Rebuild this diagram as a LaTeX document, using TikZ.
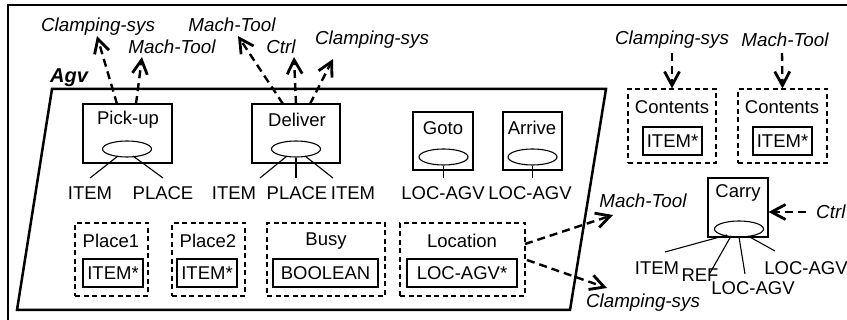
\documentclass[tikz,border=0pt]{standalone}
\usepackage{fontspec}
\setmainfont{Liberation Sans}
\usetikzlibrary{arrows.meta,shapes.geometric}
\begin{document}
\begin{tikzpicture}[x=1pt,y=-1pt,
  every node/.style={font=\fontsize{18.5}{22}\selectfont,inner sep=0pt},
  lbl/.style={font=\fontsize{18.8}{22}\selectfont\itshape},
  fbox/.style={draw,line width=1.1pt,rectangle},
  dbox/.style={draw,line width=1.1pt,dash pattern=on 5pt off 3.5pt,rectangle},
  ell/.style={draw,line width=1.1pt,ellipse,minimum width=49pt,minimum height=16pt},
  thin/.style={line width=1.1pt},
  flow/.style={line width=2.4pt,dash pattern=on 8pt off 5pt,-{Straight Barb[length=14pt,width=15pt,line width=2.8pt]}}
]
\useasboundingbox (0,0) rectangle (847,320);
\clip (0,0) rectangle (847,320);
\draw[line width=2pt] (8,5) rectangle (900,400);

% Agv trapezoid
\draw[line width=2.5pt,line join=miter] (52,89) -- (606,89) -- (570,310) -- (17,310) -- cycle;
\node[font=\fontsize{20}{22}\selectfont\bfseries\itshape] (agv) at (69,78) {Agv};

% functions
\node[fbox,minimum width=89pt,minimum height=59pt] (pick) at (127.5,133.5) {};
\node (pickt) at (128,120) {Pick-up};
\node[ell] (pickE) at (127,149) {};
\node (pickI) at (90,193) {ITEM};
\node (pickP) at (163,193) {PLACE};
\draw[thin] (118,156) -- (90,178);
\draw[thin] (133,156) -- (163,178);

\node[fbox,minimum width=88pt,minimum height=59pt] (del) at (296,133.5) {};
\node (delt) at (297,120) {Deliver};
\node[ell] (delE) at (296,149) {};
\node (delI) at (234,193) {ITEM};
\node (delP) at (297,193) {PLACE};
\node (delI2) at (353,193) {ITEM};
\draw[thin] (287,156) -- (260,178);
\draw[thin] (delE.south) -- (296,178);
\draw[thin] (305,156) -- (333,178);

\node[fbox,minimum width=60pt,minimum height=58pt] (goto) at (443,141) {};
\node (gotot) at (443,128) {Goto};
\node[ell] (gotoE) at (443.5,157) {};
\node (gotoL) at (443,193) {LOC-AGV};
\draw[thin] (gotoE.south) -- (443.5,178);

\node[fbox,minimum width=59pt,minimum height=58pt] (arr) at (532.5,141) {};
\node (arrt) at (532,128) {Arrive};
\node[ell] (arrE) at (532.5,157) {};
\node (arrL) at (530,193) {LOC-AGV};
\draw[thin] (arrE.south) -- (532.5,178);

% state boxes
\node[dbox,minimum width=73pt,minimum height=73pt] (p1) at (111.5,259.5) {};
\node (p1t) at (111,241) {Place1};
\node[fbox,minimum width=60pt,minimum height=28pt] (p1i) at (113,273) {ITEM*};

\node[dbox,minimum width=73pt,minimum height=73pt] (p2) at (208.5,259.5) {};
\node (p2t) at (208,241) {Place2};
\node[fbox,minimum width=60pt,minimum height=28pt] (p2i) at (207,273) {ITEM*};

\node[dbox,minimum width=118pt,minimum height=73pt] (busy) at (326,259.5) {};
\node (busyt) at (326,241) {Busy};
\node[fbox,minimum width=105pt,minimum height=28pt] (busyi) at (325.5,273) {BOOLEAN};

\node[dbox,minimum width=125pt,minimum height=73pt] (loc) at (462.5,259.5) {};
\node (loct) at (462,241) {Location};
\node[fbox,minimum width=110pt,minimum height=28pt] (loci) at (462,273) {LOC-AGV*};

% Contents boxes
\node[dbox,minimum width=88pt,minimum height=74pt] (c1) at (672,126) {};
\node (c1t) at (672,107) {Contents};
\node[fbox,minimum width=59pt,minimum height=28pt] (c1i) at (672.5,141) {ITEM*};
\node[dbox,minimum width=89pt,minimum height=74pt] (c2) at (782.5,126) {};
\node (c2t) at (782,107) {Contents};
\node[fbox,minimum width=59pt,minimum height=28pt] (c2i) at (782.5,141) {ITEM*};

\node[lbl] (c1l) at (672,40) {Clamping-sys};
\node[lbl] (c2l) at (785,40) {Mach-Tool};
\coordinate (c1s) at (672,53);
\coordinate (c2s) at (782,53);
\draw[flow] (c1s) -- (c1.north);
\draw[flow] (c2s) -- (c2.north);

% Carry
\node[fbox,minimum width=60pt,minimum height=59pt] (carry) at (738,207.5) {};
\node (carryt) at (738,193) {Carry};
\node[ell] (carryE) at (739,229) {};
\node (cI) at (657,268) {ITEM};
\node (cR) at (700,275) {REF};
\node (cL1) at (753,288) {LOC-AGV};
\node (cL2) at (806,268) {LOC-AGV};
\draw[thin] (727,235) -- (665,252);
\draw[thin] (731,236) -- (710,273);
\draw[thin] (739,237) -- (745,274);
\draw[thin] (748,236) -- (775,251);
\node[lbl,anchor=west] (ctrl) at (816,212) {Ctrl};
\coordinate (ctrls) at (806,212);
\draw[flow] (ctrls) -- (carry.east |- ctrls);

% arrows from Location
\node[lbl] (lm) at (643,201) {Mach-Tool};
\node[lbl] (lc) at (643,303) {Clamping-sys};
\coordinate (lmtip) at (613,215);
\coordinate (lctip) at (607,288);
\coordinate (lms) at (525,244);
\coordinate (lcs) at (527,260);
\draw[flow] (lms) -- (lmtip);
\draw[flow] (lcs) -- (lctip);

% arrows from Pick-up
\node[lbl] (pc) at (98,27) {Clamping-sys};
\node[lbl] (pm) at (172,47) {Mach-Tool};
\coordinate (pctip) at (97,36);
\coordinate (pmtip) at (142,57);
\coordinate (pcs) at (117,104);
\coordinate (pms) at (136,104);
\draw[flow] (pcs) -- (pctip);
\draw[flow] (pms) -- (pmtip);

% arrows from Deliver
\node[lbl] (dm) at (232,25) {Mach-Tool};
\node[lbl] (dct) at (281,47) {Ctrl};
\node[lbl] (dc) at (372,40) {Clamping-sys};
\coordinate (dmtip) at (238,36);
\coordinate (dcttip) at (294,57);
\coordinate (dctip) at (333,59);
\coordinate (dms) at (283,104);
\coordinate (dcts) at (296,104);
\coordinate (dcs) at (310,104);
\draw[flow] (dms) -- (dmtip);
\draw[flow] (dcts) -- (dcttip);
\draw[flow] (dcs) -- (dctip);
\end{tikzpicture}
\end{document}
